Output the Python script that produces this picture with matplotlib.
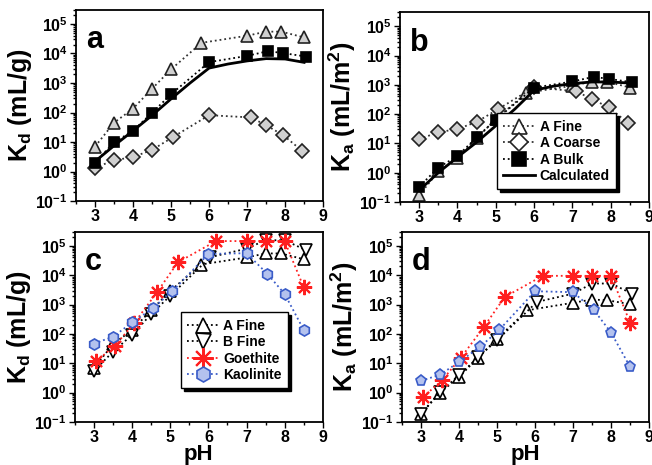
import numpy as np
import matplotlib
matplotlib.use('Agg')
import matplotlib.pyplot as plt
from matplotlib.ticker import LogLocator, FuncFormatter, MultipleLocator, NullFormatter

plt.rcParams['font.family'] = 'Liberation Sans'
plt.rcParams['font.weight'] = 'bold'
plt.rcParams['mathtext.fontset'] = 'custom'
plt.rcParams['mathtext.rm'] = 'Liberation Sans:bold'
plt.rcParams['mathtext.bf'] = 'Liberation Sans:bold'
plt.rcParams['mathtext.it'] = 'Liberation Sans:bold'

# panel a: Kd (mL/g)
ph_fine = [3.0, 3.5, 4.0, 4.5, 5.0, 5.8, 7.0, 7.5, 7.9, 8.5]
kd_fine = [7, 45, 136, 640, 2900, 23000, 40000, 55000, 55000, 35000]
ph_coarse = [3.0, 3.5, 4.0, 4.5, 5.05, 6.0, 7.1, 7.5, 7.95, 8.45]
kd_coarse = [1.35, 2.4, 3.1, 5.4, 14.7, 81, 68, 37, 17, 5.0]
ph_bulk = [3.0, 3.5, 4.0, 4.5, 5.0, 6.0, 7.0, 7.55, 7.95, 8.55]
kd_bulk = [2.0, 9.7, 24, 98, 415, 5100, 8300, 12000, 10300, 7900]
ph_calc = [3.0, 3.5, 4.0, 4.5, 5.0, 5.5, 6.0, 6.5, 7.0, 7.5, 8.0, 8.5]
kd_calc = [2.2, 7.5, 24, 80, 290, 1000, 3200, 4400, 5600, 6700, 6500, 5000]

# panel b: Ka (mL/m2)
ka_fine = [0.17, 1.1, 3.1, 15, 67, 535, 930, 1280, 1280, 810]
ka_coarse = [14, 24, 31, 54, 145, 830, 600, 330, 170, 50]
ka_bulk = [0.33, 1.5, 3.7, 16, 65, 800, 1300, 1870, 1600, 1230]
ka_calc = [0.25, 1.0, 3.4, 11, 40, 150, 650, 900, 1100, 1250, 1250, 1150]

# panel c: Kd (mL/g)
ph_bfine = [3.0, 3.5, 4.0, 4.5, 5.0, 6.05, 7.0, 7.5, 8.0, 8.55]
kd_bfine = [5.5, 25, 93, 475, 2000, 41000, 80000, 155000, 155000, 72000]
ph_goe = [3.05, 3.55, 4.05, 4.65, 5.2, 6.2, 7.0, 7.5, 8.0, 8.5]
kd_goe = [11.5, 40, 230, 2600, 27500, 145000, 145000, 145000, 145000, 3900]
ph_kao = [3.0, 3.5, 4.0, 4.55, 5.05, 6.0, 7.0, 7.55, 8.0, 8.5]
kd_kao = [47, 80, 245, 760, 2800, 53000, 56000, 11000, 2300, 138]

# panel d: Ka (mL/m2)
ka_fine_d = [0.19, 1.0, 3.4, 15.6, 69, 640, 1150, 1480, 1400, 1030]
ka_bfine = [0.19, 1.05, 3.9, 16, 61, 1230, 2350, 5200, 5200, 2350]
ka_goe = [0.7, 2.6, 15.6, 170, 1800, 9500, 9500, 9500, 9500, 240]
ka_kao = [2.5, 4.1, 11, 36, 134, 2840, 2630, 640, 110, 7.5]

GRAY = '#d0d0d0'
RED = '#ff2020'
BLUE = '#3a5cc8'
BLUEFILL = '#b4c2ee'


def setup(ax, ylabel, letter, xlabel=None):
    ax.set_yscale('log')
    ax.set_xlim(2.5, 9)
    ax.set_ylim(0.1, 3e5)
    ax.yaxis.set_major_locator(LogLocator(base=10, numticks=10))
    ax.yaxis.set_minor_locator(LogLocator(base=10, subs=np.arange(2, 10), numticks=20))
    ax.yaxis.set_major_formatter(FuncFormatter(lambda v, p: r'$\mathbf{10^{%d}}$' % round(np.log10(v))))
    ax.yaxis.set_minor_formatter(NullFormatter())
    ax.xaxis.set_major_locator(MultipleLocator(1))
    ax.xaxis.set_minor_locator(MultipleLocator(0.5))
    ax.tick_params(which='both', direction='out', labelsize=11.5, width=1, top=False, right=False, pad=2)
    ax.tick_params(which='major', length=4)
    ax.tick_params(which='minor', length=2)
    for lab in ax.get_xticklabels():
        lab.set_fontweight('bold')
    for s in ax.spines.values():
        s.set_linewidth(1.3)
    ax.set_ylabel(ylabel, fontsize=18, fontweight='bold', labelpad=1)
    if xlabel:
        ax.set_xlabel(xlabel, fontsize=16, fontweight='bold', labelpad=-1)
    ax.text(0.04, 0.84, letter, transform=ax.transAxes, fontsize=22, fontweight='bold', va='center')


leg_kw = dict(fontsize=10, frameon=True, fancybox=False, edgecolor='black',
              shadow={'color': 'black', 'alpha': 1}, handlelength=2.3, handletextpad=0.3,
              borderpad=0.45, labelspacing=0.18, markerscale=1.35, framealpha=1)

fig = plt.figure(figsize=(6.52, 4.65), dpi=100)
ax_a = fig.add_axes([0.1166, 0.5677, 0.379, 0.411])
ax_b = fig.add_axes([0.6135, 0.5656, 0.382, 0.408])
ax_c = fig.add_axes([0.115, 0.0925, 0.380, 0.409])
ax_d = fig.add_axes([0.6166, 0.0925, 0.379, 0.409])

kw = dict(linestyle=':', linewidth=1.3, markersize=8, markeredgewidth=1.2)

# a
ax_a.plot(ph_fine, kd_fine, marker='^', color='#333333', mfc=GRAY, mec='#222222', **kw)
ax_a.plot(ph_coarse, kd_coarse, marker='D', color='#333333', mfc=GRAY, mec='#222222',
          **dict(kw, markersize=7))
ax_a.plot(ph_bulk, kd_bulk, marker='s', color='black', mfc='black', mec='black', **dict(kw, markersize=7))
ax_a.plot(ph_calc, kd_calc, color='black', linewidth=2)
setup(ax_a, 'K$_\\mathbf{d}$ (mL/g)', 'a')

# b
ax_b.plot(ph_fine, ka_fine, marker='^', color='#333333', mfc=GRAY, mec='#222222', label='A Fine', **kw)
ax_b.plot(ph_coarse, ka_coarse, marker='D', color='#333333', mfc=GRAY, mec='#222222', label='A Coarse',
          **dict(kw, markersize=7))
ax_b.plot(ph_bulk, ka_bulk, marker='s', color='black', mfc='black', mec='black', label='A Bulk',
          **dict(kw, markersize=7))
ax_b.plot(ph_calc, ka_calc, color='black', linewidth=2, label='Calculated')
setup(ax_b, 'K$_\\mathbf{a}$ (mL/m$^\\mathbf{2}$)', 'b')
leg_b = ax_b.legend(loc='lower right', bbox_to_anchor=(0.895, 0.03), **leg_kw)
for h in leg_b.get_lines()[:2]:
    h.set_markerfacecolor('white')

# c
ax_c.plot(ph_fine, kd_fine, marker='^', color='black', mfc='white', mec='black', label='A Fine', **kw)
ax_c.plot(ph_bfine, kd_bfine, marker='v', color='black', mfc='white', mec='black', label='B Fine', **kw)
ax_c.plot(ph_goe, kd_goe, marker=(8, 2, 0), color=RED, mec=RED, label='Goethite',
          **dict(kw, markersize=11, markeredgewidth=1.5))
ax_c.plot(ph_kao, kd_kao, marker='h', color=BLUE, mfc=BLUEFILL, mec=BLUE, label='Kaolinite', **kw)
setup(ax_c, 'K$_\\mathbf{d}$ (mL/g)', 'c', 'pH')
ax_c.legend(loc='lower left', bbox_to_anchor=(0.40, 0.14), **leg_kw)

# d
ax_d.plot(ph_fine, ka_fine_d, marker='^', color='black', mfc='white', mec='black', **kw)
ax_d.plot(ph_bfine, ka_bfine, marker='v', color='black', mfc='white', mec='black', **kw)
ax_d.plot(ph_goe, ka_goe, marker=(8, 2, 0), color=RED, mec=RED,
          **dict(kw, markersize=11, markeredgewidth=1.5))
ax_d.plot(ph_kao, ka_kao, marker='p', color=BLUE, mfc=BLUEFILL, mec=BLUE, **kw)
setup(ax_d, 'K$_\\mathbf{a}$ (mL/m$^\\mathbf{2}$)', 'd', 'pH')

fig.savefig('out.png', dpi=100)
